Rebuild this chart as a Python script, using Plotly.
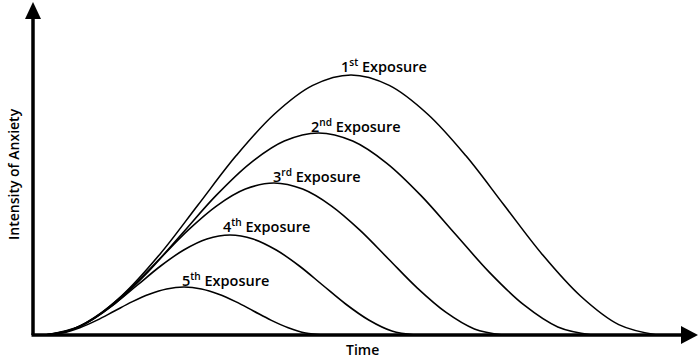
import plotly.graph_objects as go

# Curves (time units, intensity units)
exposures = ["1<sup>st</sup> Exposure", "2<sup>nd</sup> Exposure", "3<sup>rd</sup> Exposure",
             "4<sup>th</sup> Exposure", "5<sup>th</sup> Exposure"]
starts = [12, 12, 12, 12, 12]
ends = [624, 559, 470, 382, 290]
peaks = [260, 202, 152, 100, 48]
# fractional positions along each curve and relative height read from the shape
frac_t = [0.0, 0.0625, 0.125, 0.1875, 0.25, 0.3125, 0.375, 0.4375, 0.5,
          0.5625, 0.625, 0.6875, 0.75, 0.8125, 0.875, 0.9375, 1.0]
frac_h = [0.0, 0.04, 0.15, 0.31, 0.5, 0.69, 0.85, 0.96, 1.0,
          0.96, 0.85, 0.69, 0.5, 0.31, 0.15, 0.04, 0.0]
label_x = [306, 276, 238, 188, 147]
label_y = [270, 210, 160, 110, 56]

fig = go.Figure()
for i, name in enumerate(exposures):
    xs = [starts[i] + f * (ends[i] - starts[i]) for f in frac_t]
    ys = [h * peaks[i] for h in frac_h]
    fig.add_trace(go.Scatter(x=xs, y=ys, mode="lines", line=dict(color="black", width=1.6, shape="spline"),
                             showlegend=False, hoverinfo="skip"))
    fig.add_annotation(x=label_x[i], y=label_y[i], text=name, showarrow=False, xanchor="left",
                       yanchor="middle", font=dict(family="Open Sans", size=14.5, color="black", weight=600))

# axes with arrows
fig.add_shape(type="line", x0=0, y0=0, x1=0, y1=318, line=dict(color="black", width=3.5))
fig.add_shape(type="line", x0=-1.5, y0=0, x1=650, y1=0, line=dict(color="black", width=3.5))
fig.add_shape(type="path", path="M -8 316 L 8 316 L 0 333 Z", fillcolor="black", line=dict(color="black", width=0))
fig.add_shape(type="path", path="M 648 -9 L 648 9 L 665 0 Z", fillcolor="black", line=dict(color="black", width=0))

fig.add_annotation(x=329, y=-14, text="Time", showarrow=False, xanchor="center", yanchor="middle",
                   font=dict(family="Open Sans", size=14, color="black", weight=600))
fig.add_annotation(x=-20, y=161, text="Intensity of Anxiety", showarrow=False, textangle=-90,
                   xanchor="center", yanchor="middle", font=dict(family="Open Sans", size=14, color="black", weight=600))

fig.update_layout(width=700, height=359, margin=dict(l=0, r=0, t=0, b=0),
                  plot_bgcolor="white", paper_bgcolor="white",
                  xaxis=dict(range=[-33, 667], visible=False, fixedrange=True),
                  yaxis=dict(range=[-24, 335], visible=False, fixedrange=True))
fig.write_html("out.html", config={"displayModeBar": False},
               post_script="document.body.style.margin='0';")
